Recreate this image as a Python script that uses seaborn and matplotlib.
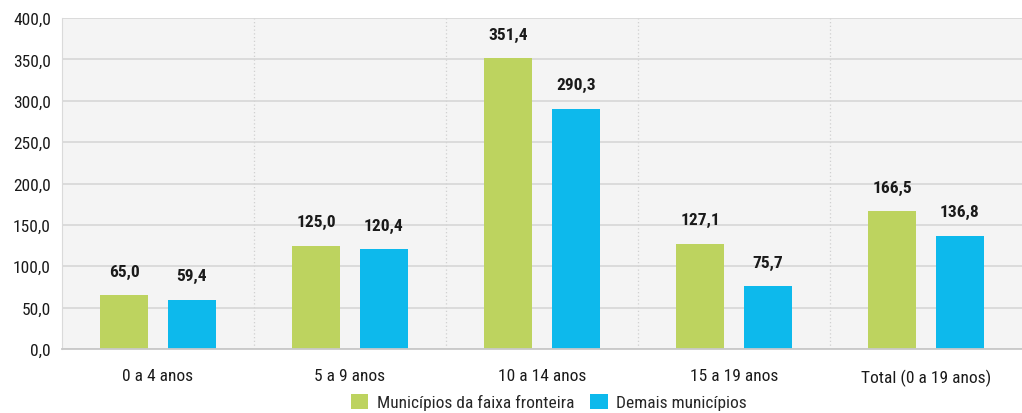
import pandas as pd
import matplotlib.pyplot as plt
import seaborn as sns
from matplotlib.ticker import FuncFormatter, FixedLocator

categories = ['0 a 4 anos', '5 a 9 anos', '10 a 14 anos', '15 a 19 anos', 'Total (0 a 19 anos)']
series_names = ['Municípios da faixa fronteira', 'Demais municípios']
fronteira = [65.0, 125.0, 351.4, 127.1, 166.5]
demais = [59.4, 120.4, 290.3, 75.7, 136.8]
colors = ['#BDD35F', '#0DB9EC']

df = pd.DataFrame({
    'faixa': categories * 2,
    'grupo': [series_names[0]] * 5 + [series_names[1]] * 5,
    'valor': fronteira + demais,
})

sns.set_style('white')
plt.rcParams['font.family'] = ['Roboto Condensed', 'Roboto', 'DejaVu Sans']


def br(v, pos=None):
    return f'{v:.1f}'.replace('.', ',')


fig = plt.figure(figsize=(10.22, 4.14), dpi=100)
ax = fig.add_axes([62 / 1022, 64 / 414, 1 - 62 / 1022, 331 / 414])
ax.set_facecolor('#F4F4F4')

sns.barplot(data=df, x='faixa', y='valor', hue='grupo', palette=colors,
            width=0.708, gap=0.29, ax=ax, saturation=1, legend=True,
            linewidth=0)

for cont in ax.containers:
    ax.bar_label(cont, labels=[br(b.get_height()) for b in cont],
                 padding=12, fontsize=12.5, fontweight='bold', color='#1a1a1a')

ax.set_ylim(0, 400)
ax.set_xlim(-0.5, 4.5)
ax.yaxis.set_major_locator(FixedLocator(range(0, 401, 50)))
ax.yaxis.set_major_formatter(FuncFormatter(br))
ax.grid(axis='y', color='#D6D6D6', lw=1.2)
ax.set_axisbelow(True)
for b in [0.5, 1.5, 2.5, 3.5]:
    ax.axvline(b, color='#D0D0D0', lw=0.9, ls=(0, (1, 2)), zorder=0)

ax.set_xlabel('')
ax.set_ylabel('')
ax.tick_params(axis='y', length=0, labelsize=12.5, labelcolor='#1a1a1a', pad=8)
ax.tick_params(axis='x', length=0, labelsize=12.5, labelcolor='#1a1a1a', pad=14)
ax.set_xticks(range(5), categories)
ax.set_xticks([-0.5, 0.5, 1.5, 2.5, 3.5], minor=True)
ax.tick_params(axis='x', which='minor', length=10, color='#C8C8C8', width=1.2)

for s in ['top', 'right']:
    ax.spines[s].set_visible(False)
ax.spines['left'].set_color('#DADADA')
ax.spines['bottom'].set_color('#C8C8C8')
ax.spines['bottom'].set_linewidth(1.3)

ax.legend(loc='center', bbox_to_anchor=(549 / 1022, 11 / 414),
          bbox_transform=fig.transFigure, ncol=2,
          frameon=False, fontsize=12.5, handlelength=1.0, handleheight=1.0,
          columnspacing=0.9, handletextpad=0.5, borderpad=0)

fig.savefig('out.png', dpi=100)
